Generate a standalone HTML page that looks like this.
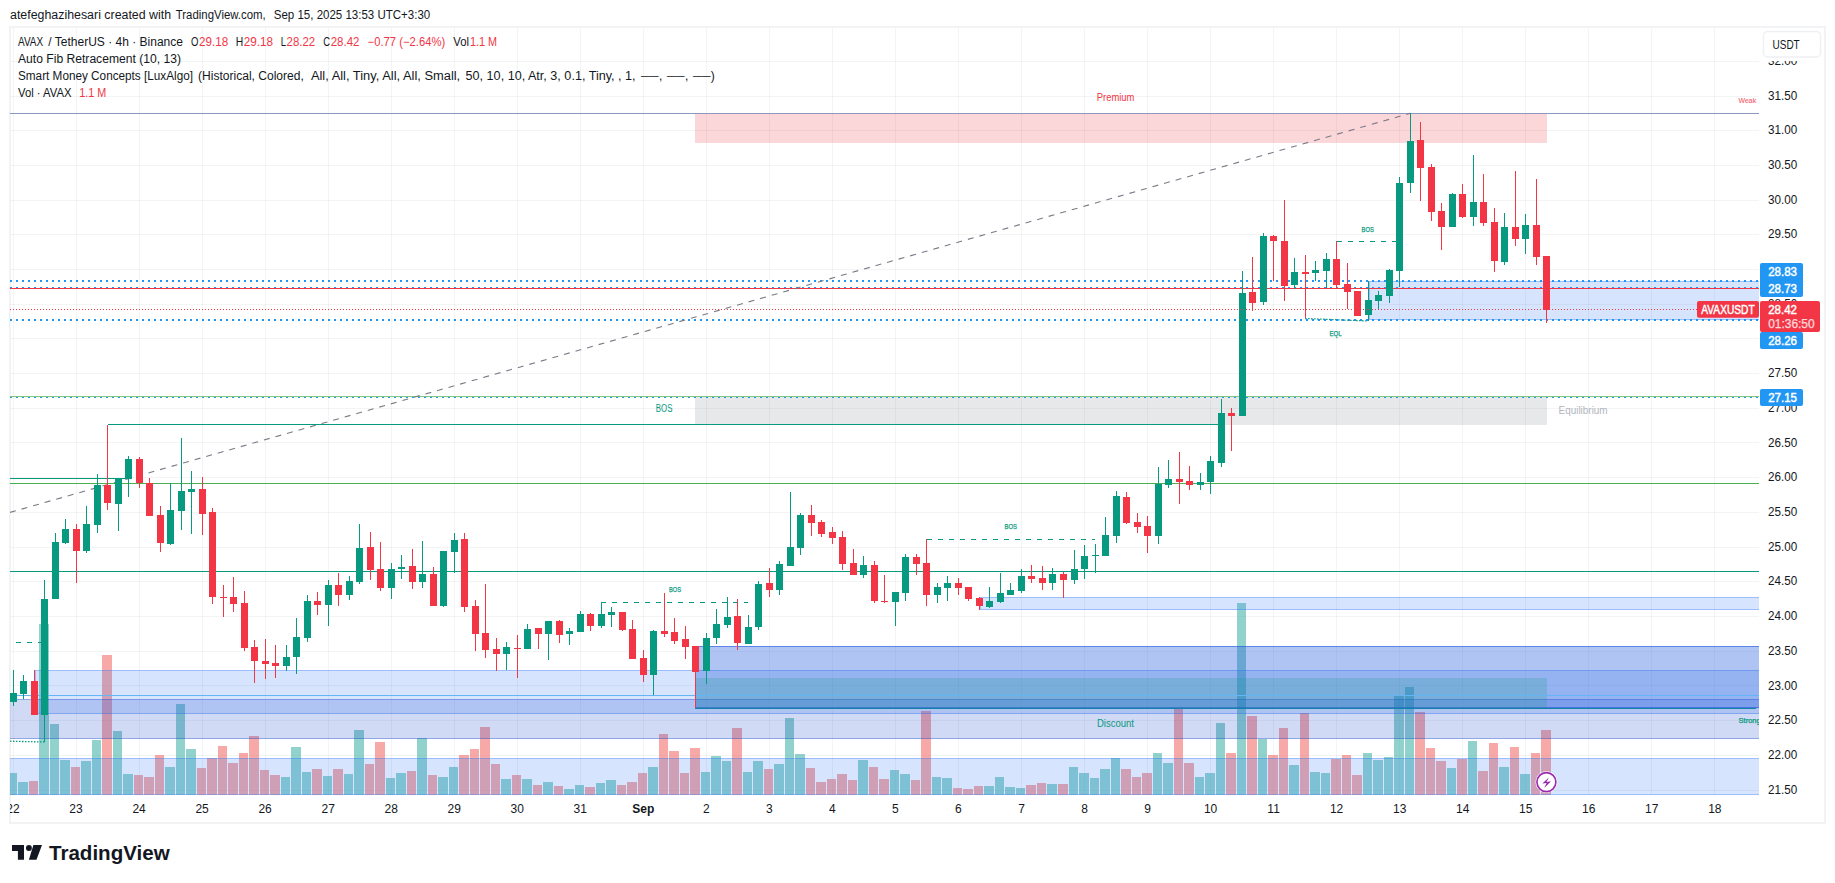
<!DOCTYPE html>
<html><head><meta charset="utf-8"><title>AVAXUSDT chart</title>
<style>
html,body{margin:0;padding:0;background:#fff;}
body{width:1835px;height:883px;overflow:hidden;}
svg{display:block;font-family:"Liberation Sans",sans-serif;}
.ce{shape-rendering:crispEdges;}
</style></head><body>
<svg width="1835" height="883" viewBox="0 0 1835 883">
<rect width="1835" height="883" fill="#fff"/>
<defs><clipPath id="pane"><rect x="10" y="28" width="1749" height="767"/></clipPath></defs>

<rect x="10" y="27" width="1815" height="796" fill="none" stroke="#f2f3f5" stroke-width="2"/>
<g class="ce" stroke-opacity="0.055">
<line x1="13.50" y1="28.00" x2="13.50" y2="795.00" stroke="#2a2e39" stroke-width="1" />
<line x1="76.50" y1="28.00" x2="76.50" y2="795.00" stroke="#2a2e39" stroke-width="1" />
<line x1="139.50" y1="28.00" x2="139.50" y2="795.00" stroke="#2a2e39" stroke-width="1" />
<line x1="202.50" y1="28.00" x2="202.50" y2="795.00" stroke="#2a2e39" stroke-width="1" />
<line x1="265.50" y1="28.00" x2="265.50" y2="795.00" stroke="#2a2e39" stroke-width="1" />
<line x1="328.50" y1="28.00" x2="328.50" y2="795.00" stroke="#2a2e39" stroke-width="1" />
<line x1="391.50" y1="28.00" x2="391.50" y2="795.00" stroke="#2a2e39" stroke-width="1" />
<line x1="454.50" y1="28.00" x2="454.50" y2="795.00" stroke="#2a2e39" stroke-width="1" />
<line x1="517.50" y1="28.00" x2="517.50" y2="795.00" stroke="#2a2e39" stroke-width="1" />
<line x1="580.50" y1="28.00" x2="580.50" y2="795.00" stroke="#2a2e39" stroke-width="1" />
<line x1="643.50" y1="28.00" x2="643.50" y2="795.00" stroke="#2a2e39" stroke-width="1" />
<line x1="706.50" y1="28.00" x2="706.50" y2="795.00" stroke="#2a2e39" stroke-width="1" />
<line x1="769.50" y1="28.00" x2="769.50" y2="795.00" stroke="#2a2e39" stroke-width="1" />
<line x1="832.50" y1="28.00" x2="832.50" y2="795.00" stroke="#2a2e39" stroke-width="1" />
<line x1="895.50" y1="28.00" x2="895.50" y2="795.00" stroke="#2a2e39" stroke-width="1" />
<line x1="958.50" y1="28.00" x2="958.50" y2="795.00" stroke="#2a2e39" stroke-width="1" />
<line x1="1021.50" y1="28.00" x2="1021.50" y2="795.00" stroke="#2a2e39" stroke-width="1" />
<line x1="1084.50" y1="28.00" x2="1084.50" y2="795.00" stroke="#2a2e39" stroke-width="1" />
<line x1="1147.50" y1="28.00" x2="1147.50" y2="795.00" stroke="#2a2e39" stroke-width="1" />
<line x1="1210.50" y1="28.00" x2="1210.50" y2="795.00" stroke="#2a2e39" stroke-width="1" />
<line x1="1273.50" y1="28.00" x2="1273.50" y2="795.00" stroke="#2a2e39" stroke-width="1" />
<line x1="1336.50" y1="28.00" x2="1336.50" y2="795.00" stroke="#2a2e39" stroke-width="1" />
<line x1="1399.50" y1="28.00" x2="1399.50" y2="795.00" stroke="#2a2e39" stroke-width="1" />
<line x1="1462.50" y1="28.00" x2="1462.50" y2="795.00" stroke="#2a2e39" stroke-width="1" />
<line x1="1525.50" y1="28.00" x2="1525.50" y2="795.00" stroke="#2a2e39" stroke-width="1" />
<line x1="1588.50" y1="28.00" x2="1588.50" y2="795.00" stroke="#2a2e39" stroke-width="1" />
<line x1="1651.50" y1="28.00" x2="1651.50" y2="795.00" stroke="#2a2e39" stroke-width="1" />
<line x1="1714.50" y1="28.00" x2="1714.50" y2="795.00" stroke="#2a2e39" stroke-width="1" />
<line x1="10.00" y1="61.50" x2="1759.00" y2="61.50" stroke="#2a2e39" stroke-width="1" />
<line x1="10.00" y1="96.50" x2="1759.00" y2="96.50" stroke="#2a2e39" stroke-width="1" />
<line x1="10.00" y1="130.50" x2="1759.00" y2="130.50" stroke="#2a2e39" stroke-width="1" />
<line x1="10.00" y1="165.50" x2="1759.00" y2="165.50" stroke="#2a2e39" stroke-width="1" />
<line x1="10.00" y1="200.50" x2="1759.00" y2="200.50" stroke="#2a2e39" stroke-width="1" />
<line x1="10.00" y1="234.50" x2="1759.00" y2="234.50" stroke="#2a2e39" stroke-width="1" />
<line x1="10.00" y1="269.50" x2="1759.00" y2="269.50" stroke="#2a2e39" stroke-width="1" />
<line x1="10.00" y1="304.50" x2="1759.00" y2="304.50" stroke="#2a2e39" stroke-width="1" />
<line x1="10.00" y1="338.50" x2="1759.00" y2="338.50" stroke="#2a2e39" stroke-width="1" />
<line x1="10.00" y1="373.50" x2="1759.00" y2="373.50" stroke="#2a2e39" stroke-width="1" />
<line x1="10.00" y1="408.50" x2="1759.00" y2="408.50" stroke="#2a2e39" stroke-width="1" />
<line x1="10.00" y1="442.50" x2="1759.00" y2="442.50" stroke="#2a2e39" stroke-width="1" />
<line x1="10.00" y1="477.50" x2="1759.00" y2="477.50" stroke="#2a2e39" stroke-width="1" />
<line x1="10.00" y1="512.50" x2="1759.00" y2="512.50" stroke="#2a2e39" stroke-width="1" />
<line x1="10.00" y1="547.50" x2="1759.00" y2="547.50" stroke="#2a2e39" stroke-width="1" />
<line x1="10.00" y1="581.50" x2="1759.00" y2="581.50" stroke="#2a2e39" stroke-width="1" />
<line x1="10.00" y1="616.50" x2="1759.00" y2="616.50" stroke="#2a2e39" stroke-width="1" />
<line x1="10.00" y1="651.50" x2="1759.00" y2="651.50" stroke="#2a2e39" stroke-width="1" />
<line x1="10.00" y1="685.50" x2="1759.00" y2="685.50" stroke="#2a2e39" stroke-width="1" />
<line x1="10.00" y1="720.50" x2="1759.00" y2="720.50" stroke="#2a2e39" stroke-width="1" />
<line x1="10.00" y1="755.50" x2="1759.00" y2="755.50" stroke="#2a2e39" stroke-width="1" />
<line x1="10.00" y1="790.50" x2="1759.00" y2="790.50" stroke="#2a2e39" stroke-width="1" />
</g>
<g clip-path="url(#pane)">
<g class="ce">
<rect x="8.00" y="773.00" width="9.00" height="22.00" fill="rgb(38,166,154)" fill-opacity="0.5"/>
<rect x="18.00" y="782.30" width="10.00" height="12.70" fill="rgb(38,166,154)" fill-opacity="0.5"/>
<rect x="29.00" y="781.00" width="9.00" height="14.00" fill="rgb(239,83,80)" fill-opacity="0.5"/>
<rect x="39.00" y="624.30" width="10.00" height="170.70" fill="rgb(38,166,154)" fill-opacity="0.5"/>
<rect x="50.00" y="724.10" width="9.00" height="70.90" fill="rgb(38,166,154)" fill-opacity="0.5"/>
<rect x="60.00" y="760.00" width="10.00" height="35.00" fill="rgb(38,166,154)" fill-opacity="0.5"/>
<rect x="71.00" y="767.00" width="9.00" height="28.00" fill="rgb(239,83,80)" fill-opacity="0.5"/>
<rect x="81.00" y="761.00" width="10.00" height="34.00" fill="rgb(38,166,154)" fill-opacity="0.5"/>
<rect x="92.00" y="740.10" width="9.00" height="54.90" fill="rgb(38,166,154)" fill-opacity="0.5"/>
<rect x="102.00" y="655.20" width="10.00" height="139.80" fill="rgb(239,83,80)" fill-opacity="0.5"/>
<rect x="113.00" y="730.90" width="9.00" height="64.10" fill="rgb(38,166,154)" fill-opacity="0.5"/>
<rect x="123.00" y="774.00" width="10.00" height="21.00" fill="rgb(38,166,154)" fill-opacity="0.5"/>
<rect x="134.00" y="775.00" width="9.00" height="20.00" fill="rgb(239,83,80)" fill-opacity="0.5"/>
<rect x="144.00" y="777.00" width="10.00" height="18.00" fill="rgb(239,83,80)" fill-opacity="0.5"/>
<rect x="155.00" y="755.00" width="9.00" height="40.00" fill="rgb(239,83,80)" fill-opacity="0.5"/>
<rect x="165.00" y="767.00" width="10.00" height="28.00" fill="rgb(38,166,154)" fill-opacity="0.5"/>
<rect x="176.00" y="704.00" width="9.00" height="91.00" fill="rgb(38,166,154)" fill-opacity="0.5"/>
<rect x="186.00" y="749.20" width="10.00" height="45.80" fill="rgb(38,166,154)" fill-opacity="0.5"/>
<rect x="197.00" y="768.00" width="9.00" height="27.00" fill="rgb(239,83,80)" fill-opacity="0.5"/>
<rect x="207.00" y="758.40" width="10.00" height="36.60" fill="rgb(239,83,80)" fill-opacity="0.5"/>
<rect x="218.00" y="746.20" width="9.00" height="48.80" fill="rgb(239,83,80)" fill-opacity="0.5"/>
<rect x="228.00" y="763.00" width="10.00" height="32.00" fill="rgb(239,83,80)" fill-opacity="0.5"/>
<rect x="239.00" y="752.90" width="9.00" height="42.10" fill="rgb(239,83,80)" fill-opacity="0.5"/>
<rect x="249.00" y="736.10" width="10.00" height="58.90" fill="rgb(239,83,80)" fill-opacity="0.5"/>
<rect x="260.00" y="770.00" width="9.00" height="25.00" fill="rgb(239,83,80)" fill-opacity="0.5"/>
<rect x="270.00" y="775.00" width="10.00" height="20.00" fill="rgb(239,83,80)" fill-opacity="0.5"/>
<rect x="281.00" y="777.00" width="9.00" height="18.00" fill="rgb(38,166,154)" fill-opacity="0.5"/>
<rect x="291.00" y="747.20" width="10.00" height="47.80" fill="rgb(38,166,154)" fill-opacity="0.5"/>
<rect x="302.00" y="772.00" width="9.00" height="23.00" fill="rgb(38,166,154)" fill-opacity="0.5"/>
<rect x="312.00" y="769.00" width="10.00" height="26.00" fill="rgb(239,83,80)" fill-opacity="0.5"/>
<rect x="323.00" y="776.00" width="9.00" height="19.00" fill="rgb(38,166,154)" fill-opacity="0.5"/>
<rect x="333.00" y="769.00" width="10.00" height="26.00" fill="rgb(239,83,80)" fill-opacity="0.5"/>
<rect x="344.00" y="774.00" width="9.00" height="21.00" fill="rgb(38,166,154)" fill-opacity="0.5"/>
<rect x="354.00" y="730.10" width="10.00" height="64.90" fill="rgb(38,166,154)" fill-opacity="0.5"/>
<rect x="365.00" y="764.00" width="9.00" height="31.00" fill="rgb(239,83,80)" fill-opacity="0.5"/>
<rect x="375.00" y="742.10" width="10.00" height="52.90" fill="rgb(239,83,80)" fill-opacity="0.5"/>
<rect x="386.00" y="778.00" width="9.00" height="17.00" fill="rgb(38,166,154)" fill-opacity="0.5"/>
<rect x="396.00" y="773.00" width="10.00" height="22.00" fill="rgb(38,166,154)" fill-opacity="0.5"/>
<rect x="407.00" y="771.00" width="9.00" height="24.00" fill="rgb(239,83,80)" fill-opacity="0.5"/>
<rect x="417.00" y="738.10" width="10.00" height="56.90" fill="rgb(38,166,154)" fill-opacity="0.5"/>
<rect x="428.00" y="775.00" width="9.00" height="20.00" fill="rgb(239,83,80)" fill-opacity="0.5"/>
<rect x="438.00" y="777.00" width="10.00" height="18.00" fill="rgb(38,166,154)" fill-opacity="0.5"/>
<rect x="449.00" y="767.00" width="9.00" height="28.00" fill="rgb(38,166,154)" fill-opacity="0.5"/>
<rect x="459.00" y="755.00" width="10.00" height="40.00" fill="rgb(239,83,80)" fill-opacity="0.5"/>
<rect x="470.00" y="749.20" width="9.00" height="45.80" fill="rgb(239,83,80)" fill-opacity="0.5"/>
<rect x="480.00" y="727.10" width="10.00" height="67.90" fill="rgb(239,83,80)" fill-opacity="0.5"/>
<rect x="491.00" y="764.00" width="9.00" height="31.00" fill="rgb(239,83,80)" fill-opacity="0.5"/>
<rect x="501.00" y="779.00" width="10.00" height="16.00" fill="rgb(38,166,154)" fill-opacity="0.5"/>
<rect x="512.00" y="775.00" width="9.00" height="20.00" fill="rgb(239,83,80)" fill-opacity="0.5"/>
<rect x="522.00" y="779.00" width="10.00" height="16.00" fill="rgb(38,166,154)" fill-opacity="0.5"/>
<rect x="533.00" y="785.00" width="9.00" height="10.00" fill="rgb(239,83,80)" fill-opacity="0.5"/>
<rect x="543.00" y="782.00" width="10.00" height="13.00" fill="rgb(38,166,154)" fill-opacity="0.5"/>
<rect x="554.00" y="786.00" width="9.00" height="9.00" fill="rgb(239,83,80)" fill-opacity="0.5"/>
<rect x="564.00" y="789.00" width="10.00" height="6.00" fill="rgb(38,166,154)" fill-opacity="0.5"/>
<rect x="575.00" y="785.00" width="9.00" height="10.00" fill="rgb(38,166,154)" fill-opacity="0.5"/>
<rect x="585.00" y="787.00" width="10.00" height="8.00" fill="rgb(239,83,80)" fill-opacity="0.5"/>
<rect x="596.00" y="783.00" width="9.00" height="12.00" fill="rgb(38,166,154)" fill-opacity="0.5"/>
<rect x="606.00" y="780.00" width="10.00" height="15.00" fill="rgb(38,166,154)" fill-opacity="0.5"/>
<rect x="617.00" y="785.00" width="9.00" height="10.00" fill="rgb(239,83,80)" fill-opacity="0.5"/>
<rect x="627.00" y="782.00" width="10.00" height="13.00" fill="rgb(239,83,80)" fill-opacity="0.5"/>
<rect x="638.00" y="773.00" width="9.00" height="22.00" fill="rgb(239,83,80)" fill-opacity="0.5"/>
<rect x="648.00" y="767.00" width="10.00" height="28.00" fill="rgb(38,166,154)" fill-opacity="0.5"/>
<rect x="659.00" y="734.10" width="9.00" height="60.90" fill="rgb(239,83,80)" fill-opacity="0.5"/>
<rect x="669.00" y="751.20" width="10.00" height="43.80" fill="rgb(239,83,80)" fill-opacity="0.5"/>
<rect x="680.00" y="773.00" width="9.00" height="22.00" fill="rgb(239,83,80)" fill-opacity="0.5"/>
<rect x="690.00" y="748.20" width="10.00" height="46.80" fill="rgb(239,83,80)" fill-opacity="0.5"/>
<rect x="701.00" y="772.00" width="9.00" height="23.00" fill="rgb(38,166,154)" fill-opacity="0.5"/>
<rect x="711.00" y="755.90" width="10.00" height="39.10" fill="rgb(38,166,154)" fill-opacity="0.5"/>
<rect x="722.00" y="761.00" width="9.00" height="34.00" fill="rgb(38,166,154)" fill-opacity="0.5"/>
<rect x="732.00" y="728.10" width="10.00" height="66.90" fill="rgb(239,83,80)" fill-opacity="0.5"/>
<rect x="743.00" y="772.00" width="9.00" height="23.00" fill="rgb(38,166,154)" fill-opacity="0.5"/>
<rect x="753.00" y="761.00" width="10.00" height="34.00" fill="rgb(38,166,154)" fill-opacity="0.5"/>
<rect x="764.00" y="769.00" width="9.00" height="26.00" fill="rgb(239,83,80)" fill-opacity="0.5"/>
<rect x="774.00" y="764.00" width="10.00" height="31.00" fill="rgb(38,166,154)" fill-opacity="0.5"/>
<rect x="785.00" y="717.80" width="9.00" height="77.20" fill="rgb(38,166,154)" fill-opacity="0.5"/>
<rect x="795.00" y="754.20" width="10.00" height="40.80" fill="rgb(38,166,154)" fill-opacity="0.5"/>
<rect x="806.00" y="768.00" width="9.00" height="27.00" fill="rgb(239,83,80)" fill-opacity="0.5"/>
<rect x="816.00" y="782.00" width="10.00" height="13.00" fill="rgb(239,83,80)" fill-opacity="0.5"/>
<rect x="827.00" y="779.00" width="9.00" height="16.00" fill="rgb(239,83,80)" fill-opacity="0.5"/>
<rect x="837.00" y="774.00" width="10.00" height="21.00" fill="rgb(239,83,80)" fill-opacity="0.5"/>
<rect x="848.00" y="780.00" width="9.00" height="15.00" fill="rgb(239,83,80)" fill-opacity="0.5"/>
<rect x="858.00" y="760.00" width="10.00" height="35.00" fill="rgb(38,166,154)" fill-opacity="0.5"/>
<rect x="869.00" y="767.00" width="9.00" height="28.00" fill="rgb(239,83,80)" fill-opacity="0.5"/>
<rect x="879.00" y="779.00" width="10.00" height="16.00" fill="rgb(239,83,80)" fill-opacity="0.5"/>
<rect x="890.00" y="770.00" width="9.00" height="25.00" fill="rgb(38,166,154)" fill-opacity="0.5"/>
<rect x="900.00" y="774.00" width="10.00" height="21.00" fill="rgb(38,166,154)" fill-opacity="0.5"/>
<rect x="911.00" y="780.00" width="9.00" height="15.00" fill="rgb(239,83,80)" fill-opacity="0.5"/>
<rect x="921.00" y="711.00" width="10.00" height="84.00" fill="rgb(239,83,80)" fill-opacity="0.5"/>
<rect x="932.00" y="777.00" width="9.00" height="18.00" fill="rgb(38,166,154)" fill-opacity="0.5"/>
<rect x="942.00" y="778.00" width="10.00" height="17.00" fill="rgb(38,166,154)" fill-opacity="0.5"/>
<rect x="953.00" y="788.00" width="9.00" height="7.00" fill="rgb(239,83,80)" fill-opacity="0.5"/>
<rect x="963.00" y="789.00" width="10.00" height="6.00" fill="rgb(239,83,80)" fill-opacity="0.5"/>
<rect x="974.00" y="786.00" width="9.00" height="9.00" fill="rgb(239,83,80)" fill-opacity="0.5"/>
<rect x="984.00" y="786.00" width="10.00" height="9.00" fill="rgb(38,166,154)" fill-opacity="0.5"/>
<rect x="995.00" y="777.00" width="9.00" height="18.00" fill="rgb(38,166,154)" fill-opacity="0.5"/>
<rect x="1005.00" y="787.00" width="10.00" height="8.00" fill="rgb(38,166,154)" fill-opacity="0.5"/>
<rect x="1016.00" y="788.00" width="9.00" height="7.00" fill="rgb(38,166,154)" fill-opacity="0.5"/>
<rect x="1026.00" y="785.00" width="10.00" height="10.00" fill="rgb(239,83,80)" fill-opacity="0.5"/>
<rect x="1037.00" y="783.00" width="9.00" height="12.00" fill="rgb(239,83,80)" fill-opacity="0.5"/>
<rect x="1047.00" y="784.00" width="10.00" height="11.00" fill="rgb(38,166,154)" fill-opacity="0.5"/>
<rect x="1058.00" y="784.00" width="10.00" height="11.00" fill="rgb(239,83,80)" fill-opacity="0.5"/>
<rect x="1069.00" y="767.00" width="9.00" height="28.00" fill="rgb(38,166,154)" fill-opacity="0.5"/>
<rect x="1079.00" y="773.00" width="10.00" height="22.00" fill="rgb(38,166,154)" fill-opacity="0.5"/>
<rect x="1090.00" y="778.00" width="9.00" height="17.00" fill="rgb(38,166,154)" fill-opacity="0.5"/>
<rect x="1100.00" y="769.00" width="10.00" height="26.00" fill="rgb(38,166,154)" fill-opacity="0.5"/>
<rect x="1111.00" y="758.00" width="9.00" height="37.00" fill="rgb(38,166,154)" fill-opacity="0.5"/>
<rect x="1121.00" y="769.00" width="10.00" height="26.00" fill="rgb(239,83,80)" fill-opacity="0.5"/>
<rect x="1132.00" y="777.00" width="9.00" height="18.00" fill="rgb(239,83,80)" fill-opacity="0.5"/>
<rect x="1142.00" y="773.00" width="10.00" height="22.00" fill="rgb(239,83,80)" fill-opacity="0.5"/>
<rect x="1153.00" y="752.90" width="9.00" height="42.10" fill="rgb(38,166,154)" fill-opacity="0.5"/>
<rect x="1163.00" y="763.00" width="10.00" height="32.00" fill="rgb(38,166,154)" fill-opacity="0.5"/>
<rect x="1174.00" y="709.00" width="9.00" height="86.00" fill="rgb(239,83,80)" fill-opacity="0.5"/>
<rect x="1184.00" y="763.00" width="10.00" height="32.00" fill="rgb(239,83,80)" fill-opacity="0.5"/>
<rect x="1195.00" y="777.00" width="9.00" height="18.00" fill="rgb(38,166,154)" fill-opacity="0.5"/>
<rect x="1205.00" y="773.00" width="10.00" height="22.00" fill="rgb(38,166,154)" fill-opacity="0.5"/>
<rect x="1216.00" y="723.10" width="9.00" height="71.90" fill="rgb(38,166,154)" fill-opacity="0.5"/>
<rect x="1226.00" y="752.90" width="10.00" height="42.10" fill="rgb(239,83,80)" fill-opacity="0.5"/>
<rect x="1237.00" y="603.00" width="9.00" height="192.00" fill="rgb(38,166,154)" fill-opacity="0.5"/>
<rect x="1247.00" y="716.10" width="10.00" height="78.90" fill="rgb(239,83,80)" fill-opacity="0.5"/>
<rect x="1258.00" y="739.10" width="9.00" height="55.90" fill="rgb(38,166,154)" fill-opacity="0.5"/>
<rect x="1268.00" y="755.00" width="10.00" height="40.00" fill="rgb(239,83,80)" fill-opacity="0.5"/>
<rect x="1279.00" y="728.10" width="9.00" height="66.90" fill="rgb(239,83,80)" fill-opacity="0.5"/>
<rect x="1289.00" y="765.00" width="10.00" height="30.00" fill="rgb(38,166,154)" fill-opacity="0.5"/>
<rect x="1300.00" y="713.10" width="9.00" height="81.90" fill="rgb(239,83,80)" fill-opacity="0.5"/>
<rect x="1310.00" y="772.00" width="10.00" height="23.00" fill="rgb(38,166,154)" fill-opacity="0.5"/>
<rect x="1321.00" y="773.20" width="9.00" height="21.80" fill="rgb(38,166,154)" fill-opacity="0.5"/>
<rect x="1331.00" y="758.90" width="10.00" height="36.10" fill="rgb(239,83,80)" fill-opacity="0.5"/>
<rect x="1342.00" y="754.90" width="9.00" height="40.10" fill="rgb(239,83,80)" fill-opacity="0.5"/>
<rect x="1352.00" y="775.10" width="10.00" height="19.90" fill="rgb(239,83,80)" fill-opacity="0.5"/>
<rect x="1363.00" y="753.20" width="9.00" height="41.80" fill="rgb(38,166,154)" fill-opacity="0.5"/>
<rect x="1373.00" y="760.00" width="10.00" height="35.00" fill="rgb(38,166,154)" fill-opacity="0.5"/>
<rect x="1384.00" y="757.20" width="9.00" height="37.80" fill="rgb(38,166,154)" fill-opacity="0.5"/>
<rect x="1394.00" y="696.00" width="10.00" height="99.00" fill="rgb(38,166,154)" fill-opacity="0.5"/>
<rect x="1405.00" y="687.00" width="9.00" height="108.00" fill="rgb(38,166,154)" fill-opacity="0.5"/>
<rect x="1415.00" y="712.30" width="10.00" height="82.70" fill="rgb(239,83,80)" fill-opacity="0.5"/>
<rect x="1426.00" y="747.90" width="9.00" height="47.10" fill="rgb(239,83,80)" fill-opacity="0.5"/>
<rect x="1436.00" y="761.10" width="10.00" height="33.90" fill="rgb(239,83,80)" fill-opacity="0.5"/>
<rect x="1447.00" y="767.80" width="9.00" height="27.20" fill="rgb(38,166,154)" fill-opacity="0.5"/>
<rect x="1457.00" y="758.90" width="10.00" height="36.10" fill="rgb(239,83,80)" fill-opacity="0.5"/>
<rect x="1468.00" y="741.20" width="9.00" height="53.80" fill="rgb(38,166,154)" fill-opacity="0.5"/>
<rect x="1478.00" y="770.90" width="10.00" height="24.10" fill="rgb(239,83,80)" fill-opacity="0.5"/>
<rect x="1489.00" y="743.10" width="9.00" height="51.90" fill="rgb(239,83,80)" fill-opacity="0.5"/>
<rect x="1499.00" y="767.00" width="10.00" height="28.00" fill="rgb(38,166,154)" fill-opacity="0.5"/>
<rect x="1510.00" y="747.10" width="9.00" height="47.90" fill="rgb(239,83,80)" fill-opacity="0.5"/>
<rect x="1520.00" y="774.00" width="10.00" height="21.00" fill="rgb(38,166,154)" fill-opacity="0.5"/>
<rect x="1531.00" y="753.00" width="9.00" height="42.00" fill="rgb(239,83,80)" fill-opacity="0.5"/>
<rect x="1541.00" y="730.00" width="10.00" height="65.00" fill="rgb(239,83,80)" fill-opacity="0.5"/>
</g>
<rect x="695.00" y="113.50" width="852.00" height="29.50" fill="rgb(242,54,69)" fill-opacity="0.2" class="ce"/>
<rect x="695.00" y="397.00" width="852.00" height="27.60" fill="rgb(135,139,148)" fill-opacity="0.2" class="ce"/>
<rect x="35.00" y="670.40" width="1725.00" height="43.20" fill="rgb(49,121,245)" fill-opacity="0.2" class="ce"/>
<rect x="35.50" y="670.90" width="1724.00" height="42.20" fill="none" stroke="rgb(49,121,245)" stroke-opacity="0.35" stroke-width="1" class="ce"/>
<rect x="9.00" y="699.30" width="1751.00" height="39.40" fill="rgb(24,72,204)" fill-opacity="0.2" class="ce"/>
<rect x="9.50" y="699.80" width="1750.00" height="38.40" fill="none" stroke="rgb(24,72,204)" stroke-opacity="0.35" stroke-width="1" class="ce"/>
<rect x="9.00" y="757.90" width="1751.00" height="36.70" fill="rgb(49,121,245)" fill-opacity="0.2" class="ce"/>
<rect x="9.50" y="758.40" width="1750.00" height="35.70" fill="none" stroke="rgb(49,121,245)" stroke-opacity="0.35" stroke-width="1" class="ce"/>
<rect x="695.00" y="646.20" width="1065.00" height="62.00" fill="rgb(49,121,245)" fill-opacity="0.2" class="ce"/>
<rect x="695.50" y="646.70" width="1064.00" height="61.00" fill="none" stroke="rgb(49,121,245)" stroke-opacity="0.35" stroke-width="1" class="ce"/>
<rect x="695.00" y="646.20" width="1065.00" height="62.00" fill="rgb(24,72,204)" fill-opacity="0.2" class="ce"/>
<rect x="695.50" y="646.70" width="1064.00" height="61.00" fill="none" stroke="rgb(24,72,204)" stroke-opacity="0.35" stroke-width="1" class="ce"/>
<rect x="980.00" y="597.30" width="780.00" height="12.30" fill="rgb(49,121,245)" fill-opacity="0.2" class="ce"/>
<rect x="980.50" y="597.80" width="779.00" height="11.30" fill="none" stroke="rgb(49,121,245)" stroke-opacity="0.35" stroke-width="1" class="ce"/>
<rect x="1368.70" y="281.00" width="391.30" height="39.30" fill="rgb(49,121,245)" fill-opacity="0.2" class="ce"/>
<rect x="1369.20" y="281.50" width="390.30" height="38.30" fill="none" stroke="rgb(49,121,245)" stroke-opacity="0.35" stroke-width="1" class="ce"/>
<rect x="695.00" y="678.00" width="852.00" height="30.00" fill="rgb(8,153,129)" fill-opacity="0.2" class="ce"/>
<line x1="10.00" y1="113.50" x2="1759.00" y2="113.50" stroke="#8c98c0" stroke-width="1" class="ce" />
<line x1="10.00" y1="288.50" x2="1759.00" y2="288.50" stroke="#f23645" stroke-width="1" class="ce" />
<line x1="10.00" y1="396.50" x2="1759.00" y2="396.50" stroke="#81c784" stroke-width="1" class="ce" />
<line x1="10.00" y1="483.50" x2="1759.00" y2="483.50" stroke="#4caf50" stroke-width="1" class="ce" />
<line x1="10.00" y1="571.50" x2="1759.00" y2="571.50" stroke="#089981" stroke-width="1" class="ce" />
<line x1="10.00" y1="695.50" x2="1759.00" y2="695.50" stroke="#64b5f6" stroke-width="1" class="ce" />
<line x1="10.00" y1="281.00" x2="1759.00" y2="281.00" stroke="#2196f3" stroke-width="2" stroke-dasharray="2 4" class="ce"/>
<line x1="10.00" y1="288.00" x2="1759.00" y2="288.00" stroke="#2196f3" stroke-width="2" stroke-dasharray="2 4" class="ce"/>
<line x1="10.00" y1="320.00" x2="1759.00" y2="320.00" stroke="#2196f3" stroke-width="2" stroke-dasharray="2 4" class="ce"/>
<line x1="10.00" y1="288.50" x2="1759.00" y2="288.50" stroke="#f23645" stroke-width="1" class="ce" />
<line x1="10.00" y1="397.00" x2="1759.00" y2="397.00" stroke="#2196f3" stroke-width="2" stroke-dasharray="2 4" class="ce"/>
<line x1="10.00" y1="396.50" x2="1759.00" y2="396.50" stroke="#81c784" stroke-width="1" class="ce" />
<line x1="10.00" y1="512.40" x2="1410.30" y2="113.30" stroke="#787b86" stroke-width="1.1" stroke-dasharray="6 6"/>
<line x1="107.55" y1="424.50" x2="1221.08" y2="424.50" stroke="#089981" stroke-width="1" class="ce" />
<line x1="10.00" y1="478.50" x2="128.56" y2="478.50" stroke="#089981" stroke-width="1" class="ce" />
<line x1="695.00" y1="708.50" x2="1756.00" y2="708.50" stroke="#1583a6" stroke-width="1" class="ce" />
<line x1="601.28" y1="602.50" x2="748.35" y2="602.50" stroke="#089981" stroke-width="1" stroke-dasharray="5 6" class="ce"/>
<line x1="926.94" y1="539.50" x2="1095.02" y2="539.50" stroke="#089981" stroke-width="1" stroke-dasharray="5 6" class="ce"/>
<line x1="1336.63" y1="241.50" x2="1399.66" y2="241.50" stroke="#089981" stroke-width="1" stroke-dasharray="5 6" class="ce"/>
<line x1="16.00" y1="642.50" x2="42.00" y2="642.50" stroke="#089981" stroke-width="1" stroke-dasharray="5 6" class="ce"/>
<line x1="10.00" y1="741.20" x2="44.40" y2="742.00" stroke="#089981" stroke-width="1.3" stroke-dasharray="1.5 1.5"/>
<line x1="1305.12" y1="318.50" x2="1368.15" y2="321.00" stroke="#089981" stroke-width="1.3" stroke-dasharray="1.5 1.5"/>
<g class="ce">
<rect x="13.00" y="670.20" width="1.00" height="35.60" fill="#089981" />
<rect x="10.00" y="693.30" width="7.00" height="8.50" fill="#089981" />
<rect x="23.00" y="675.00" width="1.00" height="23.70" fill="#089981" />
<rect x="20.00" y="681.00" width="7.00" height="12.60" fill="#089981" />
<rect x="34.00" y="670.20" width="1.00" height="44.60" fill="#f23645" />
<rect x="31.00" y="681.00" width="7.00" height="33.80" fill="#f23645" />
<rect x="44.00" y="580.40" width="1.00" height="161.60" fill="#089981" />
<rect x="41.00" y="598.50" width="7.00" height="116.20" fill="#089981" />
<rect x="55.00" y="533.30" width="1.00" height="65.40" fill="#089981" />
<rect x="52.00" y="542.30" width="7.00" height="56.40" fill="#089981" />
<rect x="65.00" y="519.30" width="1.00" height="24.50" fill="#089981" />
<rect x="62.00" y="529.00" width="7.00" height="13.80" fill="#089981" />
<rect x="76.00" y="524.00" width="1.00" height="59.00" fill="#f23645" />
<rect x="73.00" y="529.00" width="7.00" height="21.60" fill="#f23645" />
<rect x="86.00" y="506.20" width="1.00" height="46.70" fill="#089981" />
<rect x="83.00" y="524.00" width="7.00" height="26.60" fill="#089981" />
<rect x="97.00" y="473.90" width="1.00" height="58.90" fill="#089981" />
<rect x="94.00" y="485.20" width="7.00" height="39.30" fill="#089981" />
<rect x="107.00" y="424.50" width="1.00" height="85.20" fill="#f23645" />
<rect x="104.00" y="485.20" width="7.00" height="17.30" fill="#f23645" />
<rect x="118.00" y="478.00" width="1.00" height="52.80" fill="#089981" />
<rect x="115.00" y="478.20" width="7.00" height="25.50" fill="#089981" />
<rect x="128.00" y="455.80" width="1.00" height="41.20" fill="#089981" />
<rect x="125.00" y="458.90" width="7.00" height="19.80" fill="#089981" />
<rect x="139.00" y="457.00" width="1.00" height="30.70" fill="#f23645" />
<rect x="136.00" y="458.90" width="7.00" height="24.50" fill="#f23645" />
<rect x="149.00" y="478.20" width="1.00" height="37.30" fill="#f23645" />
<rect x="146.00" y="483.20" width="7.00" height="32.30" fill="#f23645" />
<rect x="160.00" y="506.20" width="1.00" height="45.70" fill="#f23645" />
<rect x="157.00" y="515.00" width="7.00" height="27.80" fill="#f23645" />
<rect x="170.00" y="483.20" width="1.00" height="61.40" fill="#089981" />
<rect x="167.00" y="510.20" width="7.00" height="33.80" fill="#089981" />
<rect x="181.00" y="438.00" width="1.00" height="91.80" fill="#089981" />
<rect x="178.00" y="491.20" width="7.00" height="19.50" fill="#089981" />
<rect x="191.00" y="471.10" width="1.00" height="62.90" fill="#089981" />
<rect x="188.00" y="489.40" width="7.00" height="2.60" fill="#089981" />
<rect x="202.00" y="477.20" width="1.00" height="57.60" fill="#f23645" />
<rect x="199.00" y="489.20" width="7.00" height="24.60" fill="#f23645" />
<rect x="212.00" y="508.20" width="1.00" height="95.60" fill="#f23645" />
<rect x="209.00" y="512.00" width="7.00" height="84.70" fill="#f23645" />
<rect x="223.00" y="585.20" width="1.00" height="31.60" fill="#f23645" />
<rect x="220.00" y="597.00" width="7.00" height="1.20" fill="#f23645" />
<rect x="233.00" y="577.20" width="1.00" height="34.60" fill="#f23645" />
<rect x="230.00" y="597.20" width="7.00" height="6.60" fill="#f23645" />
<rect x="244.00" y="591.20" width="1.00" height="59.70" fill="#f23645" />
<rect x="241.00" y="603.00" width="7.00" height="44.60" fill="#f23645" />
<rect x="254.00" y="640.10" width="1.00" height="42.60" fill="#f23645" />
<rect x="251.00" y="647.10" width="7.00" height="14.30" fill="#f23645" />
<rect x="265.00" y="639.10" width="1.00" height="39.60" fill="#f23645" />
<rect x="262.00" y="660.90" width="7.00" height="2.80" fill="#f23645" />
<rect x="275.00" y="645.10" width="1.00" height="32.60" fill="#f23645" />
<rect x="272.00" y="663.20" width="7.00" height="2.50" fill="#f23645" />
<rect x="286.00" y="645.10" width="1.00" height="25.60" fill="#089981" />
<rect x="283.00" y="657.20" width="7.00" height="8.50" fill="#089981" />
<rect x="296.00" y="618.00" width="1.00" height="55.70" fill="#089981" />
<rect x="293.00" y="637.10" width="7.00" height="19.60" fill="#089981" />
<rect x="307.00" y="595.20" width="1.00" height="46.40" fill="#089981" />
<rect x="304.00" y="601.00" width="7.00" height="36.60" fill="#089981" />
<rect x="317.00" y="592.20" width="1.00" height="22.60" fill="#f23645" />
<rect x="314.00" y="601.00" width="7.00" height="3.80" fill="#f23645" />
<rect x="328.00" y="580.20" width="1.00" height="45.60" fill="#089981" />
<rect x="325.00" y="585.20" width="7.00" height="19.60" fill="#089981" />
<rect x="338.00" y="573.20" width="1.00" height="32.60" fill="#f23645" />
<rect x="335.00" y="585.20" width="7.00" height="9.50" fill="#f23645" />
<rect x="349.00" y="576.20" width="1.00" height="23.50" fill="#089981" />
<rect x="346.00" y="581.20" width="7.00" height="13.50" fill="#089981" />
<rect x="359.00" y="524.00" width="1.00" height="60.20" fill="#089981" />
<rect x="356.00" y="548.10" width="7.00" height="34.10" fill="#089981" />
<rect x="370.00" y="532.10" width="1.00" height="47.60" fill="#f23645" />
<rect x="367.00" y="547.10" width="7.00" height="22.80" fill="#f23645" />
<rect x="380.00" y="542.10" width="1.00" height="48.60" fill="#f23645" />
<rect x="377.00" y="569.20" width="7.00" height="18.50" fill="#f23645" />
<rect x="391.00" y="563.10" width="1.00" height="35.60" fill="#089981" />
<rect x="388.00" y="569.20" width="7.00" height="18.50" fill="#089981" />
<rect x="401.00" y="555.10" width="1.00" height="23.60" fill="#089981" />
<rect x="398.00" y="567.20" width="7.00" height="1.50" fill="#089981" />
<rect x="412.00" y="549.10" width="1.00" height="39.60" fill="#f23645" />
<rect x="409.00" y="566.20" width="7.00" height="15.50" fill="#f23645" />
<rect x="422.00" y="541.10" width="1.00" height="46.60" fill="#089981" />
<rect x="419.00" y="574.20" width="7.00" height="7.50" fill="#089981" />
<rect x="433.00" y="567.20" width="1.00" height="38.60" fill="#f23645" />
<rect x="430.00" y="574.20" width="7.00" height="31.60" fill="#f23645" />
<rect x="443.00" y="551.10" width="1.00" height="55.70" fill="#089981" />
<rect x="440.00" y="551.10" width="7.00" height="54.70" fill="#089981" />
<rect x="454.00" y="533.10" width="1.00" height="39.60" fill="#089981" />
<rect x="451.00" y="540.10" width="7.00" height="11.80" fill="#089981" />
<rect x="464.00" y="533.10" width="1.00" height="78.70" fill="#f23645" />
<rect x="461.00" y="539.10" width="7.00" height="67.70" fill="#f23645" />
<rect x="475.00" y="600.30" width="1.00" height="50.60" fill="#f23645" />
<rect x="472.00" y="606.30" width="7.00" height="27.60" fill="#f23645" />
<rect x="485.00" y="584.20" width="1.00" height="73.70" fill="#f23645" />
<rect x="482.00" y="633.40" width="7.00" height="16.50" fill="#f23645" />
<rect x="496.00" y="638.40" width="1.00" height="32.60" fill="#f23645" />
<rect x="493.00" y="649.40" width="7.00" height="4.50" fill="#f23645" />
<rect x="506.00" y="642.40" width="1.00" height="27.60" fill="#089981" />
<rect x="503.00" y="647.40" width="7.00" height="6.50" fill="#089981" />
<rect x="517.00" y="635.40" width="1.00" height="42.60" fill="#f23645" />
<rect x="514.00" y="648.20" width="7.00" height="1.20" fill="#f23645" />
<rect x="527.00" y="624.30" width="1.00" height="24.60" fill="#089981" />
<rect x="524.00" y="629.40" width="7.00" height="19.50" fill="#089981" />
<rect x="538.00" y="628.40" width="1.00" height="20.50" fill="#f23645" />
<rect x="535.00" y="628.40" width="7.00" height="5.50" fill="#f23645" />
<rect x="548.00" y="621.30" width="1.00" height="38.60" fill="#089981" />
<rect x="545.00" y="621.30" width="7.00" height="12.60" fill="#089981" />
<rect x="559.00" y="620.30" width="1.00" height="22.60" fill="#f23645" />
<rect x="556.00" y="621.30" width="7.00" height="13.60" fill="#f23645" />
<rect x="569.00" y="628.40" width="1.00" height="16.50" fill="#089981" />
<rect x="566.00" y="631.40" width="7.00" height="2.50" fill="#089981" />
<rect x="580.00" y="611.30" width="1.00" height="20.60" fill="#089981" />
<rect x="577.00" y="614.30" width="7.00" height="17.60" fill="#089981" />
<rect x="590.00" y="613.30" width="1.00" height="17.60" fill="#f23645" />
<rect x="587.00" y="614.30" width="7.00" height="11.50" fill="#f23645" />
<rect x="601.00" y="602.30" width="1.00" height="25.60" fill="#089981" />
<rect x="598.00" y="614.30" width="7.00" height="11.50" fill="#089981" />
<rect x="611.00" y="607.30" width="1.00" height="19.60" fill="#089981" />
<rect x="608.00" y="612.30" width="7.00" height="2.50" fill="#089981" />
<rect x="622.00" y="612.30" width="1.00" height="18.60" fill="#f23645" />
<rect x="619.00" y="612.30" width="7.00" height="17.60" fill="#f23645" />
<rect x="632.00" y="620.30" width="1.00" height="38.60" fill="#f23645" />
<rect x="629.00" y="629.40" width="7.00" height="29.50" fill="#f23645" />
<rect x="643.00" y="650.40" width="1.00" height="31.60" fill="#f23645" />
<rect x="640.00" y="657.90" width="7.00" height="17.10" fill="#f23645" />
<rect x="653.00" y="630.40" width="1.00" height="64.60" fill="#089981" />
<rect x="650.00" y="630.90" width="7.00" height="44.10" fill="#089981" />
<rect x="664.00" y="593.30" width="1.00" height="43.60" fill="#f23645" />
<rect x="661.00" y="630.90" width="7.00" height="3.00" fill="#f23645" />
<rect x="674.00" y="618.30" width="1.00" height="25.60" fill="#f23645" />
<rect x="671.00" y="632.40" width="7.00" height="8.50" fill="#f23645" />
<rect x="685.00" y="626.30" width="1.00" height="32.60" fill="#f23645" />
<rect x="682.00" y="639.40" width="7.00" height="7.50" fill="#f23645" />
<rect x="695.00" y="646.40" width="1.00" height="61.70" fill="#f23645" />
<rect x="692.00" y="646.40" width="7.00" height="25.60" fill="#f23645" />
<rect x="706.00" y="633.40" width="1.00" height="50.60" fill="#089981" />
<rect x="703.00" y="638.40" width="7.00" height="32.60" fill="#089981" />
<rect x="716.00" y="609.30" width="1.00" height="34.60" fill="#089981" />
<rect x="713.00" y="624.30" width="7.00" height="13.60" fill="#089981" />
<rect x="727.00" y="597.30" width="1.00" height="30.60" fill="#089981" />
<rect x="724.00" y="617.30" width="7.00" height="7.50" fill="#089981" />
<rect x="737.00" y="599.30" width="1.00" height="50.60" fill="#f23645" />
<rect x="734.00" y="616.30" width="7.00" height="26.60" fill="#f23645" />
<rect x="748.00" y="615.30" width="1.00" height="28.60" fill="#089981" />
<rect x="745.00" y="627.40" width="7.00" height="16.50" fill="#089981" />
<rect x="758.00" y="581.20" width="1.00" height="48.70" fill="#089981" />
<rect x="755.00" y="584.20" width="7.00" height="42.60" fill="#089981" />
<rect x="769.00" y="568.20" width="1.00" height="28.60" fill="#f23645" />
<rect x="766.00" y="583.20" width="7.00" height="6.50" fill="#f23645" />
<rect x="779.00" y="561.20" width="1.00" height="33.60" fill="#089981" />
<rect x="776.00" y="564.20" width="7.00" height="25.50" fill="#089981" />
<rect x="790.00" y="492.10" width="1.00" height="73.60" fill="#089981" />
<rect x="787.00" y="547.10" width="7.00" height="18.60" fill="#089981" />
<rect x="800.00" y="513.00" width="1.00" height="41.60" fill="#089981" />
<rect x="797.00" y="515.00" width="7.00" height="32.60" fill="#089981" />
<rect x="811.00" y="505.00" width="1.00" height="30.60" fill="#f23645" />
<rect x="808.00" y="515.00" width="7.00" height="7.60" fill="#f23645" />
<rect x="821.00" y="520.10" width="1.00" height="16.50" fill="#f23645" />
<rect x="818.00" y="522.10" width="7.00" height="11.50" fill="#f23645" />
<rect x="832.00" y="527.10" width="1.00" height="16.50" fill="#f23645" />
<rect x="829.00" y="532.10" width="7.00" height="5.50" fill="#f23645" />
<rect x="842.00" y="531.10" width="1.00" height="38.60" fill="#f23645" />
<rect x="839.00" y="537.10" width="7.00" height="26.60" fill="#f23645" />
<rect x="853.00" y="549.10" width="1.00" height="25.60" fill="#f23645" />
<rect x="850.00" y="563.20" width="7.00" height="11.50" fill="#f23645" />
<rect x="863.00" y="556.20" width="1.00" height="21.50" fill="#089981" />
<rect x="860.00" y="565.20" width="7.00" height="9.50" fill="#089981" />
<rect x="874.00" y="561.20" width="1.00" height="41.60" fill="#f23645" />
<rect x="871.00" y="565.20" width="7.00" height="35.60" fill="#f23645" />
<rect x="884.00" y="575.20" width="1.00" height="27.60" fill="#f23645" />
<rect x="881.00" y="601.00" width="7.00" height="1.20" fill="#f23645" />
<rect x="895.00" y="592.30" width="1.00" height="33.50" fill="#089981" />
<rect x="892.00" y="592.30" width="7.00" height="9.50" fill="#089981" />
<rect x="905.00" y="553.90" width="1.00" height="47.10" fill="#089981" />
<rect x="902.00" y="556.90" width="7.00" height="36.10" fill="#089981" />
<rect x="916.00" y="553.90" width="1.00" height="21.10" fill="#f23645" />
<rect x="913.00" y="556.90" width="7.00" height="7.00" fill="#f23645" />
<rect x="926.00" y="539.40" width="1.00" height="66.60" fill="#f23645" />
<rect x="923.00" y="563.00" width="7.00" height="32.00" fill="#f23645" />
<rect x="937.00" y="583.00" width="1.00" height="20.00" fill="#089981" />
<rect x="934.00" y="587.00" width="7.00" height="8.00" fill="#089981" />
<rect x="947.00" y="576.00" width="1.00" height="25.00" fill="#089981" />
<rect x="944.00" y="583.00" width="7.00" height="5.00" fill="#089981" />
<rect x="958.00" y="578.00" width="1.00" height="17.00" fill="#f23645" />
<rect x="955.00" y="583.00" width="7.00" height="5.00" fill="#f23645" />
<rect x="968.00" y="587.00" width="1.00" height="14.00" fill="#f23645" />
<rect x="965.00" y="587.00" width="7.00" height="12.00" fill="#f23645" />
<rect x="979.00" y="597.00" width="1.00" height="13.00" fill="#f23645" />
<rect x="976.00" y="598.00" width="7.00" height="8.00" fill="#f23645" />
<rect x="989.00" y="587.00" width="1.00" height="21.00" fill="#089981" />
<rect x="986.00" y="601.00" width="7.00" height="6.00" fill="#089981" />
<rect x="1000.00" y="573.00" width="1.00" height="30.00" fill="#089981" />
<rect x="997.00" y="593.00" width="7.00" height="9.00" fill="#089981" />
<rect x="1010.00" y="583.00" width="1.00" height="12.00" fill="#089981" />
<rect x="1007.00" y="590.00" width="7.00" height="5.00" fill="#089981" />
<rect x="1021.00" y="569.00" width="1.00" height="24.00" fill="#089981" />
<rect x="1018.00" y="576.00" width="7.00" height="15.00" fill="#089981" />
<rect x="1031.00" y="565.00" width="1.00" height="18.00" fill="#f23645" />
<rect x="1028.00" y="576.00" width="7.00" height="3.00" fill="#f23645" />
<rect x="1042.00" y="566.00" width="1.00" height="24.00" fill="#f23645" />
<rect x="1039.00" y="578.00" width="7.00" height="5.00" fill="#f23645" />
<rect x="1052.00" y="568.00" width="1.00" height="22.00" fill="#089981" />
<rect x="1049.00" y="574.00" width="7.00" height="9.00" fill="#089981" />
<rect x="1063.00" y="572.00" width="1.00" height="26.00" fill="#f23645" />
<rect x="1060.00" y="574.00" width="7.00" height="6.00" fill="#f23645" />
<rect x="1074.00" y="550.00" width="1.00" height="34.00" fill="#089981" />
<rect x="1071.00" y="569.00" width="7.00" height="11.00" fill="#089981" />
<rect x="1084.00" y="545.00" width="1.00" height="34.00" fill="#089981" />
<rect x="1081.00" y="556.00" width="7.00" height="13.00" fill="#089981" />
<rect x="1095.00" y="544.00" width="1.00" height="29.00" fill="#089981" />
<rect x="1092.00" y="555.00" width="7.00" height="1.20" fill="#089981" />
<rect x="1105.00" y="516.80" width="1.00" height="39.20" fill="#089981" />
<rect x="1102.00" y="534.90" width="7.00" height="21.10" fill="#089981" />
<rect x="1116.00" y="490.80" width="1.00" height="52.20" fill="#089981" />
<rect x="1113.00" y="495.80" width="7.00" height="40.10" fill="#089981" />
<rect x="1126.00" y="491.80" width="1.00" height="32.00" fill="#f23645" />
<rect x="1123.00" y="496.80" width="7.00" height="26.00" fill="#f23645" />
<rect x="1137.00" y="512.80" width="1.00" height="20.10" fill="#f23645" />
<rect x="1134.00" y="521.80" width="7.00" height="5.00" fill="#f23645" />
<rect x="1147.00" y="515.80" width="1.00" height="37.10" fill="#f23645" />
<rect x="1144.00" y="525.80" width="7.00" height="10.10" fill="#f23645" />
<rect x="1158.00" y="466.70" width="1.00" height="77.20" fill="#089981" />
<rect x="1155.00" y="483.70" width="7.00" height="52.20" fill="#089981" />
<rect x="1168.00" y="459.70" width="1.00" height="28.00" fill="#089981" />
<rect x="1165.00" y="478.70" width="7.00" height="6.00" fill="#089981" />
<rect x="1179.00" y="451.60" width="1.00" height="52.20" fill="#f23645" />
<rect x="1176.00" y="478.70" width="7.00" height="3.00" fill="#f23645" />
<rect x="1189.00" y="465.70" width="1.00" height="24.00" fill="#f23645" />
<rect x="1186.00" y="480.70" width="7.00" height="4.00" fill="#f23645" />
<rect x="1200.00" y="472.70" width="1.00" height="17.00" fill="#089981" />
<rect x="1197.00" y="481.70" width="7.00" height="3.00" fill="#089981" />
<rect x="1210.00" y="455.70" width="1.00" height="38.10" fill="#089981" />
<rect x="1207.00" y="460.70" width="7.00" height="21.00" fill="#089981" />
<rect x="1221.00" y="399.00" width="1.00" height="68.00" fill="#089981" />
<rect x="1218.00" y="412.90" width="7.00" height="49.80" fill="#089981" />
<rect x="1231.00" y="407.90" width="1.00" height="43.10" fill="#f23645" />
<rect x="1228.00" y="412.90" width="7.00" height="3.00" fill="#f23645" />
<rect x="1242.00" y="271.20" width="1.00" height="144.70" fill="#089981" />
<rect x="1239.00" y="292.80" width="7.00" height="123.10" fill="#089981" />
<rect x="1252.00" y="257.10" width="1.00" height="53.70" fill="#f23645" />
<rect x="1249.00" y="292.00" width="7.00" height="10.60" fill="#f23645" />
<rect x="1263.00" y="233.00" width="1.00" height="72.00" fill="#089981" />
<rect x="1260.00" y="235.90" width="7.00" height="65.90" fill="#089981" />
<rect x="1273.00" y="235.00" width="1.00" height="46.40" fill="#f23645" />
<rect x="1270.00" y="235.90" width="7.00" height="4.70" fill="#f23645" />
<rect x="1284.00" y="200.00" width="1.00" height="101.00" fill="#f23645" />
<rect x="1281.00" y="241.00" width="7.00" height="44.70" fill="#f23645" />
<rect x="1294.00" y="257.90" width="1.00" height="30.60" fill="#089981" />
<rect x="1291.00" y="272.00" width="7.00" height="12.90" fill="#089981" />
<rect x="1305.00" y="255.10" width="1.00" height="62.80" fill="#f23645" />
<rect x="1302.00" y="272.00" width="7.00" height="1.60" fill="#f23645" />
<rect x="1315.00" y="261.00" width="1.00" height="20.40" fill="#089981" />
<rect x="1312.00" y="270.20" width="7.00" height="2.40" fill="#089981" />
<rect x="1326.00" y="253.20" width="1.00" height="34.90" fill="#089981" />
<rect x="1323.00" y="259.00" width="7.00" height="11.80" fill="#089981" />
<rect x="1336.00" y="241.40" width="1.00" height="46.70" fill="#f23645" />
<rect x="1333.00" y="259.00" width="7.00" height="25.90" fill="#f23645" />
<rect x="1347.00" y="263.00" width="1.00" height="45.90" fill="#f23645" />
<rect x="1344.00" y="284.20" width="7.00" height="7.60" fill="#f23645" />
<rect x="1357.00" y="290.80" width="1.00" height="25.10" fill="#f23645" />
<rect x="1354.00" y="290.80" width="7.00" height="25.10" fill="#f23645" />
<rect x="1368.00" y="280.60" width="1.00" height="40.60" fill="#089981" />
<rect x="1365.00" y="299.80" width="7.00" height="15.00" fill="#089981" />
<rect x="1378.00" y="291.20" width="1.00" height="18.30" fill="#089981" />
<rect x="1375.00" y="295.10" width="7.00" height="5.50" fill="#089981" />
<rect x="1389.00" y="269.20" width="1.00" height="33.80" fill="#089981" />
<rect x="1386.00" y="270.20" width="7.00" height="25.50" fill="#089981" />
<rect x="1399.00" y="177.10" width="1.00" height="109.80" fill="#089981" />
<rect x="1396.00" y="183.20" width="7.00" height="87.60" fill="#089981" />
<rect x="1410.00" y="113.30" width="1.00" height="79.70" fill="#089981" />
<rect x="1407.00" y="140.80" width="7.00" height="42.00" fill="#089981" />
<rect x="1420.00" y="122.00" width="1.00" height="78.80" fill="#f23645" />
<rect x="1417.00" y="140.00" width="7.00" height="27.90" fill="#f23645" />
<rect x="1431.00" y="164.00" width="1.00" height="56.90" fill="#f23645" />
<rect x="1428.00" y="167.10" width="7.00" height="44.70" fill="#f23645" />
<rect x="1441.00" y="203.00" width="1.00" height="47.00" fill="#f23645" />
<rect x="1438.00" y="211.00" width="7.00" height="15.90" fill="#f23645" />
<rect x="1452.00" y="193.00" width="1.00" height="33.90" fill="#089981" />
<rect x="1449.00" y="194.20" width="7.00" height="32.70" fill="#089981" />
<rect x="1462.00" y="184.00" width="1.00" height="33.70" fill="#f23645" />
<rect x="1459.00" y="194.20" width="7.00" height="22.70" fill="#f23645" />
<rect x="1473.00" y="155.30" width="1.00" height="70.70" fill="#089981" />
<rect x="1470.00" y="202.00" width="7.00" height="14.90" fill="#089981" />
<rect x="1483.00" y="174.20" width="1.00" height="51.80" fill="#f23645" />
<rect x="1480.00" y="202.00" width="7.00" height="20.80" fill="#f23645" />
<rect x="1494.00" y="207.90" width="1.00" height="63.70" fill="#f23645" />
<rect x="1491.00" y="222.00" width="7.00" height="38.80" fill="#f23645" />
<rect x="1504.00" y="213.00" width="1.00" height="51.90" fill="#089981" />
<rect x="1501.00" y="227.10" width="7.00" height="34.50" fill="#089981" />
<rect x="1515.00" y="171.00" width="1.00" height="75.00" fill="#f23645" />
<rect x="1512.00" y="227.10" width="7.00" height="11.70" fill="#f23645" />
<rect x="1525.00" y="213.80" width="1.00" height="40.20" fill="#089981" />
<rect x="1522.00" y="225.20" width="7.00" height="13.60" fill="#089981" />
<rect x="1536.00" y="179.10" width="1.00" height="85.80" fill="#f23645" />
<rect x="1533.00" y="225.20" width="7.00" height="31.70" fill="#f23645" />
<rect x="1546.00" y="256.00" width="1.00" height="67.00" fill="#f23645" />
<rect x="1543.00" y="256.00" width="7.00" height="53.50" fill="#f23645" />
</g>
<line x1="10.00" y1="309.50" x2="1759.00" y2="309.50" stroke="#f23645" stroke-width="1" stroke-dasharray="1 2" class="ce"/>
</g>
<text x="1096.80" y="100.90" font-size="10" fill="#f23645" text-anchor="start" font-weight="normal" textLength="37.6" lengthAdjust="spacingAndGlyphs" >Premium</text>
<text x="1738.60" y="103.30" font-size="7" fill="#f23645" text-anchor="start" font-weight="normal" textLength="17.5" lengthAdjust="spacingAndGlyphs" stroke="#f23645" stroke-width="0.1" opacity="0.8">Weak</text>
<text x="1558.60" y="413.90" font-size="10" fill="#b2b5be" text-anchor="start" font-weight="normal" textLength="49.0" lengthAdjust="spacingAndGlyphs" >Equilibrium</text>
<text x="1097.00" y="727.30" font-size="10" fill="#089981" text-anchor="start" font-weight="normal" textLength="37.0" lengthAdjust="spacingAndGlyphs" >Discount</text>
<g clip-path="url(#pane)">
<text x="1738.60" y="723.20" font-size="7" fill="#089981" text-anchor="start" font-weight="normal" textLength="22.0" lengthAdjust="spacingAndGlyphs" stroke="#089981" stroke-width="0.25" opacity="1">Strong</text>
</g>
<text x="655.80" y="412.20" font-size="10" fill="#089981" text-anchor="start" font-weight="normal" textLength="16.6" lengthAdjust="spacingAndGlyphs" >BOS</text>
<text x="669.00" y="592.20" font-size="7" fill="#089981" text-anchor="start" font-weight="normal" textLength="12.0" lengthAdjust="spacingAndGlyphs" stroke="#089981" stroke-width="0.25" opacity="1">BOS</text>
<text x="1004.60" y="529.20" font-size="7" fill="#089981" text-anchor="start" font-weight="normal" textLength="12.4" lengthAdjust="spacingAndGlyphs" stroke="#089981" stroke-width="0.25" opacity="1">BOS</text>
<text x="1361.50" y="232.20" font-size="7" fill="#089981" text-anchor="start" font-weight="normal" textLength="12.3" lengthAdjust="spacingAndGlyphs" stroke="#089981" stroke-width="0.25" opacity="1">BOS</text>
<text x="1329.50" y="336.20" font-size="7" fill="#089981" text-anchor="start" font-weight="normal" textLength="12.2" lengthAdjust="spacingAndGlyphs" stroke="#089981" stroke-width="0.25" opacity="1">EQL</text>
<circle cx="1546.4" cy="782.1" r="10.8" fill="#fff"/><circle cx="1546.4" cy="782.1" r="9.5" fill="#fff" stroke="#9c27b0" stroke-width="1.6"/>
<path d="M1548.9 777.6 L1542.3 783.6 L1546.6 783.0 L1544.2 788 L1551 781.2 L1546.4 781.9 Z" fill="#9c27b0"/>
<text x="1768.00" y="64.90" font-size="12" fill="#131722" text-anchor="start" font-weight="normal" textLength="29.2" lengthAdjust="spacingAndGlyphs" >32.00</text>
<text x="1768.00" y="99.60" font-size="12" fill="#131722" text-anchor="start" font-weight="normal" textLength="29.2" lengthAdjust="spacingAndGlyphs" >31.50</text>
<text x="1768.00" y="134.30" font-size="12" fill="#131722" text-anchor="start" font-weight="normal" textLength="29.2" lengthAdjust="spacingAndGlyphs" >31.00</text>
<text x="1768.00" y="169.00" font-size="12" fill="#131722" text-anchor="start" font-weight="normal" textLength="29.2" lengthAdjust="spacingAndGlyphs" >30.50</text>
<text x="1768.00" y="203.70" font-size="12" fill="#131722" text-anchor="start" font-weight="normal" textLength="29.2" lengthAdjust="spacingAndGlyphs" >30.00</text>
<text x="1768.00" y="238.40" font-size="12" fill="#131722" text-anchor="start" font-weight="normal" textLength="29.2" lengthAdjust="spacingAndGlyphs" >29.50</text>
<text x="1768.00" y="273.10" font-size="12" fill="#131722" text-anchor="start" font-weight="normal" textLength="29.2" lengthAdjust="spacingAndGlyphs" >29.00</text>
<text x="1768.00" y="307.80" font-size="12" fill="#131722" text-anchor="start" font-weight="normal" textLength="29.2" lengthAdjust="spacingAndGlyphs" >28.50</text>
<text x="1768.00" y="342.50" font-size="12" fill="#131722" text-anchor="start" font-weight="normal" textLength="29.2" lengthAdjust="spacingAndGlyphs" >28.00</text>
<text x="1768.00" y="377.20" font-size="12" fill="#131722" text-anchor="start" font-weight="normal" textLength="29.2" lengthAdjust="spacingAndGlyphs" >27.50</text>
<text x="1768.00" y="411.90" font-size="12" fill="#131722" text-anchor="start" font-weight="normal" textLength="29.2" lengthAdjust="spacingAndGlyphs" >27.00</text>
<text x="1768.00" y="446.60" font-size="12" fill="#131722" text-anchor="start" font-weight="normal" textLength="29.2" lengthAdjust="spacingAndGlyphs" >26.50</text>
<text x="1768.00" y="481.30" font-size="12" fill="#131722" text-anchor="start" font-weight="normal" textLength="29.2" lengthAdjust="spacingAndGlyphs" >26.00</text>
<text x="1768.00" y="516.00" font-size="12" fill="#131722" text-anchor="start" font-weight="normal" textLength="29.2" lengthAdjust="spacingAndGlyphs" >25.50</text>
<text x="1768.00" y="550.70" font-size="12" fill="#131722" text-anchor="start" font-weight="normal" textLength="29.2" lengthAdjust="spacingAndGlyphs" >25.00</text>
<text x="1768.00" y="585.40" font-size="12" fill="#131722" text-anchor="start" font-weight="normal" textLength="29.2" lengthAdjust="spacingAndGlyphs" >24.50</text>
<text x="1768.00" y="620.10" font-size="12" fill="#131722" text-anchor="start" font-weight="normal" textLength="29.2" lengthAdjust="spacingAndGlyphs" >24.00</text>
<text x="1768.00" y="654.80" font-size="12" fill="#131722" text-anchor="start" font-weight="normal" textLength="29.2" lengthAdjust="spacingAndGlyphs" >23.50</text>
<text x="1768.00" y="689.50" font-size="12" fill="#131722" text-anchor="start" font-weight="normal" textLength="29.2" lengthAdjust="spacingAndGlyphs" >23.00</text>
<text x="1768.00" y="724.20" font-size="12" fill="#131722" text-anchor="start" font-weight="normal" textLength="29.2" lengthAdjust="spacingAndGlyphs" >22.50</text>
<text x="1768.00" y="758.90" font-size="12" fill="#131722" text-anchor="start" font-weight="normal" textLength="29.2" lengthAdjust="spacingAndGlyphs" >22.00</text>
<text x="1768.00" y="793.60" font-size="12" fill="#131722" text-anchor="start" font-weight="normal" textLength="29.2" lengthAdjust="spacingAndGlyphs" >21.50</text>
<rect x="1760.00" y="28.00" width="64.00" height="33.00" fill="#fff" />
<rect x="1763.5" y="31.5" width="57" height="25.5" rx="4" fill="#fff" stroke="#eff0f3" stroke-width="1.4"/>
<text x="1772.50" y="49.00" font-size="12" fill="#131722" text-anchor="start" font-weight="normal" textLength="27.2" lengthAdjust="spacingAndGlyphs" >USDT</text>
<rect x="1760" y="263" width="43" height="34" rx="2" fill="#2196f3"/>
<text x="1768.20" y="276.00" font-size="12" fill="#fff" text-anchor="start" font-weight="normal" textLength="28.8" lengthAdjust="spacingAndGlyphs" stroke="#fff" stroke-width="0.45">28.83</text>
<text x="1768.20" y="293.00" font-size="12" fill="#fff" text-anchor="start" font-weight="normal" textLength="28.8" lengthAdjust="spacingAndGlyphs" stroke="#fff" stroke-width="0.45">28.73</text>
<rect x="1760" y="332" width="43" height="17" rx="2" fill="#2196f3"/>
<text x="1768.20" y="344.80" font-size="12" fill="#fff" text-anchor="start" font-weight="normal" textLength="28.8" lengthAdjust="spacingAndGlyphs" stroke="#fff" stroke-width="0.45">28.26</text>
<rect x="1760" y="389" width="43" height="17" rx="2" fill="#2196f3"/>
<text x="1768.20" y="401.80" font-size="12" fill="#fff" text-anchor="start" font-weight="normal" textLength="28.8" lengthAdjust="spacingAndGlyphs" stroke="#fff" stroke-width="0.45">27.15</text>
<rect x="1760" y="301" width="60" height="31" rx="2" fill="#f23645"/>
<text x="1768.20" y="313.70" font-size="12" fill="#fff" text-anchor="start" font-weight="normal" textLength="28.8" lengthAdjust="spacingAndGlyphs" stroke="#fff" stroke-width="0.45">28.42</text>
<text x="1768.20" y="327.80" font-size="12" fill="#fff" text-anchor="start" font-weight="normal" textLength="46.4" lengthAdjust="spacingAndGlyphs" opacity="0.8" stroke="#fff" stroke-width="0.25">01:36:50</text>
<rect x="1697" y="301" width="62" height="16.69999999999999" rx="2" fill="#f23645"/>
<text x="1701.30" y="313.70" font-size="12" fill="#fff" text-anchor="start" font-weight="normal" textLength="53.3" lengthAdjust="spacingAndGlyphs" stroke="#fff" stroke-width="0.45">AVAXUSDT</text>
<g clip-path="url(#taxis)"><defs><clipPath id="taxis"><rect x="10" y="796" width="1750" height="27"/></clipPath></defs>
<text x="13.00" y="813.30" font-size="12" fill="#131722" text-anchor="middle" font-weight="normal" >22</text>
<text x="76.03" y="813.30" font-size="12" fill="#131722" text-anchor="middle" font-weight="normal" >23</text>
<text x="139.06" y="813.30" font-size="12" fill="#131722" text-anchor="middle" font-weight="normal" >24</text>
<text x="202.09" y="813.30" font-size="12" fill="#131722" text-anchor="middle" font-weight="normal" >25</text>
<text x="265.12" y="813.30" font-size="12" fill="#131722" text-anchor="middle" font-weight="normal" >26</text>
<text x="328.15" y="813.30" font-size="12" fill="#131722" text-anchor="middle" font-weight="normal" >27</text>
<text x="391.18" y="813.30" font-size="12" fill="#131722" text-anchor="middle" font-weight="normal" >28</text>
<text x="454.21" y="813.30" font-size="12" fill="#131722" text-anchor="middle" font-weight="normal" >29</text>
<text x="517.24" y="813.30" font-size="12" fill="#131722" text-anchor="middle" font-weight="normal" >30</text>
<text x="580.27" y="813.30" font-size="12" fill="#131722" text-anchor="middle" font-weight="normal" >31</text>
<text x="643.30" y="813.30" font-size="12" fill="#131722" text-anchor="middle" font-weight="bold" >Sep</text>
<text x="706.33" y="813.30" font-size="12" fill="#131722" text-anchor="middle" font-weight="normal" >2</text>
<text x="769.36" y="813.30" font-size="12" fill="#131722" text-anchor="middle" font-weight="normal" >3</text>
<text x="832.39" y="813.30" font-size="12" fill="#131722" text-anchor="middle" font-weight="normal" >4</text>
<text x="895.42" y="813.30" font-size="12" fill="#131722" text-anchor="middle" font-weight="normal" >5</text>
<text x="958.45" y="813.30" font-size="12" fill="#131722" text-anchor="middle" font-weight="normal" >6</text>
<text x="1021.48" y="813.30" font-size="12" fill="#131722" text-anchor="middle" font-weight="normal" >7</text>
<text x="1084.51" y="813.30" font-size="12" fill="#131722" text-anchor="middle" font-weight="normal" >8</text>
<text x="1147.54" y="813.30" font-size="12" fill="#131722" text-anchor="middle" font-weight="normal" >9</text>
<text x="1210.57" y="813.30" font-size="12" fill="#131722" text-anchor="middle" font-weight="normal" >10</text>
<text x="1273.60" y="813.30" font-size="12" fill="#131722" text-anchor="middle" font-weight="normal" >11</text>
<text x="1336.63" y="813.30" font-size="12" fill="#131722" text-anchor="middle" font-weight="normal" >12</text>
<text x="1399.66" y="813.30" font-size="12" fill="#131722" text-anchor="middle" font-weight="normal" >13</text>
<text x="1462.69" y="813.30" font-size="12" fill="#131722" text-anchor="middle" font-weight="normal" >14</text>
<text x="1525.72" y="813.30" font-size="12" fill="#131722" text-anchor="middle" font-weight="normal" >15</text>
<text x="1588.75" y="813.30" font-size="12" fill="#131722" text-anchor="middle" font-weight="normal" >16</text>
<text x="1651.78" y="813.30" font-size="12" fill="#131722" text-anchor="middle" font-weight="normal" >17</text>
<text x="1714.81" y="813.30" font-size="12" fill="#131722" text-anchor="middle" font-weight="normal" >18</text>
</g>
<text x="10.00" y="18.50" font-size="12" fill="#131722" text-anchor="start" font-weight="normal" textLength="161.1" lengthAdjust="spacingAndGlyphs" >atefeghazihesari created with</text>
<text x="175.80" y="18.50" font-size="12" fill="#131722" text-anchor="start" font-weight="normal" textLength="89.9" lengthAdjust="spacingAndGlyphs" >TradingView.com,</text>
<text x="273.80" y="18.50" font-size="12" fill="#131722" text-anchor="start" font-weight="normal" textLength="156.4" lengthAdjust="spacingAndGlyphs" >Sep 15, 2025 13:53 UTC+3:30</text>
<text x="18.00" y="45.90" font-size="12" fill="#131722" text-anchor="start" font-weight="normal" textLength="25.2" lengthAdjust="spacingAndGlyphs" >AVAX</text>
<text x="48.30" y="45.90" font-size="12" fill="#131722" text-anchor="start" font-weight="normal" textLength="134.7" lengthAdjust="spacingAndGlyphs" >/ TetherUS · 4h · Binance</text>
<text x="191.10" y="45.90" font-size="12" fill="#131722" text-anchor="start" font-weight="normal" textLength="7.4" lengthAdjust="spacingAndGlyphs" >O</text>
<text x="199.10" y="45.90" font-size="12" fill="#f23645" text-anchor="start" font-weight="normal" textLength="29.1" lengthAdjust="spacingAndGlyphs" >29.18</text>
<text x="235.70" y="45.90" font-size="12" fill="#131722" text-anchor="start" font-weight="normal" textLength="7.5" lengthAdjust="spacingAndGlyphs" >H</text>
<text x="243.80" y="45.90" font-size="12" fill="#f23645" text-anchor="start" font-weight="normal" textLength="29.3" lengthAdjust="spacingAndGlyphs" >29.18</text>
<text x="280.70" y="45.90" font-size="12" fill="#131722" text-anchor="start" font-weight="normal" textLength="5.3" lengthAdjust="spacingAndGlyphs" >L</text>
<text x="286.60" y="45.90" font-size="12" fill="#f23645" text-anchor="start" font-weight="normal" textLength="28.6" lengthAdjust="spacingAndGlyphs" >28.22</text>
<text x="323.30" y="45.90" font-size="12" fill="#131722" text-anchor="start" font-weight="normal" textLength="6.8" lengthAdjust="spacingAndGlyphs" >C</text>
<text x="330.70" y="45.90" font-size="12" fill="#f23645" text-anchor="start" font-weight="normal" textLength="28.8" lengthAdjust="spacingAndGlyphs" >28.42</text>
<text x="367.60" y="45.90" font-size="12" fill="#f23645" text-anchor="start" font-weight="normal" textLength="77.6" lengthAdjust="spacingAndGlyphs" >−0.77 (−2.64%)</text>
<text x="453.30" y="45.90" font-size="12" fill="#131722" text-anchor="start" font-weight="normal" textLength="15.7" lengthAdjust="spacingAndGlyphs" >Vol</text>
<text x="469.90" y="45.90" font-size="12" fill="#f23645" text-anchor="start" font-weight="normal" textLength="15.3" lengthAdjust="spacingAndGlyphs" >1.1</text>
<text x="487.90" y="45.90" font-size="12" fill="#f23645" text-anchor="start" font-weight="normal" textLength="9.0" lengthAdjust="spacingAndGlyphs" >M</text>
<text x="18.00" y="62.90" font-size="12" fill="#131722" text-anchor="start" font-weight="normal" textLength="163.0" lengthAdjust="spacingAndGlyphs" >Auto Fib Retracement (10, 13)</text>
<text x="18.00" y="79.90" font-size="12" fill="#131722" text-anchor="start" font-weight="normal" textLength="175.0" lengthAdjust="spacingAndGlyphs" >Smart Money Concepts [LuxAlgo]</text>
<text x="198.00" y="79.90" font-size="12" fill="#131722" text-anchor="start" font-weight="normal" textLength="105.8" lengthAdjust="spacingAndGlyphs" >(Historical, Colored,</text>
<text x="310.90" y="79.90" font-size="12" fill="#131722" text-anchor="start" font-weight="normal" textLength="149.3" lengthAdjust="spacingAndGlyphs" >All, All, Tiny, All, All, Small,</text>
<text x="465.60" y="79.90" font-size="12" fill="#131722" text-anchor="start" font-weight="normal" textLength="170.0" lengthAdjust="spacingAndGlyphs" >50, 10, 10, Atr, 3, 0.1, Tiny, , 1,</text>
<text x="641.00" y="79.90" font-size="12" fill="#131722" text-anchor="start" font-weight="normal" textLength="17.5" lengthAdjust="spacingAndGlyphs" >──</text>
<text x="667.00" y="79.90" font-size="12" fill="#131722" text-anchor="start" font-weight="normal" textLength="17.5" lengthAdjust="spacingAndGlyphs" >──</text>
<text x="693.10" y="79.90" font-size="12" fill="#131722" text-anchor="start" font-weight="normal" textLength="17.5" lengthAdjust="spacingAndGlyphs" >──</text>
<text x="659.00" y="79.90" font-size="12" fill="#131722" text-anchor="start" font-weight="normal" >,</text>
<text x="685.00" y="79.90" font-size="12" fill="#131722" text-anchor="start" font-weight="normal" >,</text>
<text x="710.80" y="79.90" font-size="12" fill="#131722" text-anchor="start" font-weight="normal" >)</text>
<text x="18.00" y="96.90" font-size="12" fill="#131722" text-anchor="start" font-weight="normal" textLength="53.4" lengthAdjust="spacingAndGlyphs" >Vol · AVAX</text>
<text x="79.20" y="96.90" font-size="12" fill="#f23645" text-anchor="start" font-weight="normal" textLength="15.3" lengthAdjust="spacingAndGlyphs" >1.1</text>
<text x="97.30" y="96.90" font-size="12" fill="#f23645" text-anchor="start" font-weight="normal" textLength="9.0" lengthAdjust="spacingAndGlyphs" >M</text>
<g fill="#131722">
<path d="M12 845.1 H24 V859.7 H17.9 V851 H12 Z"/>
<circle cx="28.9" cy="848" r="2.95"/>
<path d="M33.4 845.1 H42 L36.5 859.7 H28.9 Z"/>
</g>
<text x="49.00" y="859.70" font-size="20" fill="#131722" text-anchor="start" font-weight="bold" textLength="120.7" lengthAdjust="spacingAndGlyphs" >TradingView</text>
</svg></body></html>
